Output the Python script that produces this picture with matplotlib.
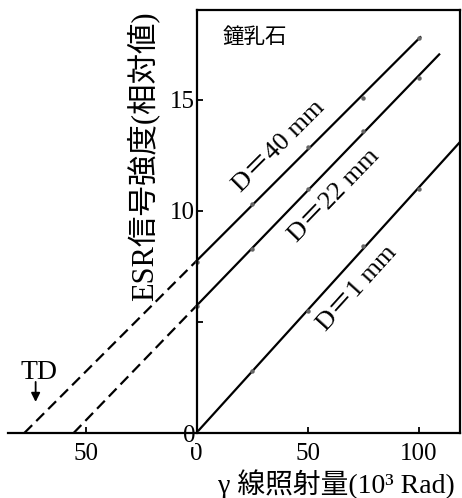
import numpy as np
import matplotlib
matplotlib.use("Agg")
import matplotlib.pyplot as plt

plt.rcParams["font.family"] = ["Liberation Serif", "Noto Sans CJK JP"]

# gamma dose (10^3 Rad) and ESR intensity for each depth
dose = [0, 25, 50, 75, 100]
esr_40 = [7.7, 10.3, 12.9, 15.1, 17.8]
esr_22 = [5.7, 8.3, 11.0, 13.6, 16.0]
esr_1 = [0.0, 2.8, 5.5, 8.4, 11.0]
line_end = [101, 109.5, 118.5]
labels = ["D＝40 mm", "D＝22 mm", "D＝1 mm"]
label_pos = [(37, 12.9), (62, 10.7), (72.5, 6.5)]

fig = plt.figure(figsize=(4.62, 4.98), dpi=100)
ax = fig.add_axes([0.017, 0.1305, 0.9786, 0.8495])
xmin, xmax, ymax = -85, 118.5, 19.05
ax.set_xlim(xmin, xmax)
ax.set_ylim(0, ymax)

for ys, xe, lab, (lx, ly) in zip([esr_40, esr_22, esr_1], line_end, labels, label_pos):
    k, b = np.polyfit(dose, ys, 1)
    ax.plot([0, xe], [b, b + k * xe], color="black", lw=1.6, solid_capstyle="butt")
    if b > 0.5:
        x0 = -b / k
        ax.plot([x0, 0], [0, b], color="black", lw=1.6, linestyle=(0, (5, 2.6)))
    ax.plot(dose, ys, "o", ms=2.2, color="#666666")
    ang = np.degrees(np.arctan(k * (423 / ymax) / (452 / (xmax - xmin))))
    ax.text(lx, ly, lab, rotation=ang, ha="center", va="center", fontsize=19,
            rotation_mode="anchor")

ax.text(26, 17.85, "鐘乳石", fontsize=15.5, ha="center", va="center",
        family=["Noto Sans CJK JP"])

# TD marker
ax.annotate("", xy=(-72.5, 1.4), xytext=(-72.5, 2.3),
            arrowprops=dict(arrowstyle="-|>", color="black", lw=1.3,
                            mutation_scale=13, shrinkA=0, shrinkB=0))
ax.text(-71, 2.72, "TD", fontsize=20, ha="center", va="center")

# axes frame: y axis at x=0, open on the left
ax.spines["left"].set_position(("data", 0))
ax.spines["top"].set_bounds(0, xmax)
for s in ax.spines.values():
    s.set_linewidth(1.6)

ax.set_xticks([-50, 0, 50, 100])
ax.set_xticklabels(["50", "0", "50", "100"])
ax.set_yticks([0, 5, 10, 15])
ax.set_yticklabels(["0", "", "10", "15"])
ax.tick_params(direction="in", length=4, width=1.3, labelsize=18)
ax.tick_params(axis="x", pad=7)
ax.tick_params(axis="y", pad=1)
ax.get_yticklabels()[0].set_bbox(dict(facecolor="white", edgecolor="none", pad=0))

ax.set_ylabel("ESR信号強度(相対値)", fontsize=22, labelpad=0)
ax.yaxis.set_label_coords(0.335, 0.655)
fig.text(336 / 462, 1 - 484 / 498, "γ 線照射量(10³ Rad)", fontsize=20,
         ha="center", va="center")

fig.savefig("out.png", dpi=100)
